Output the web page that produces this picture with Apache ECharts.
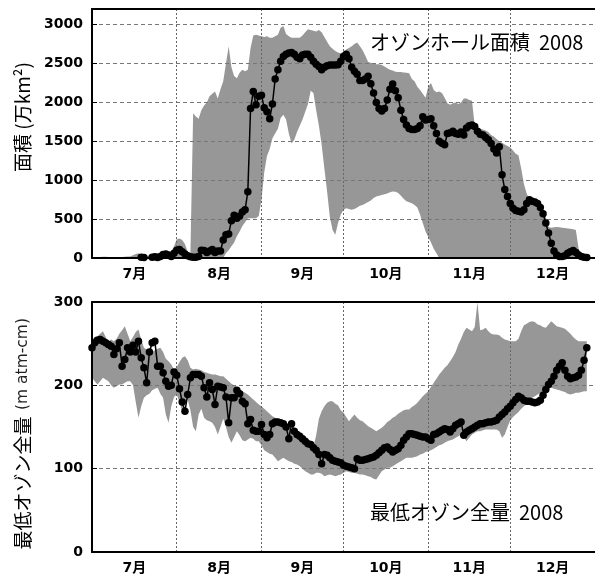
<!DOCTYPE html>
<html><head><meta charset="utf-8">
<script src="https://cdn.jsdelivr.net/npm/echarts@6/dist/echarts.min.js"></script>
<style>html,body{margin:0;padding:0;background:#fff}#c{width:595px;height:581px}</style>
</head><body><div id="c"></div>
<script>
// Month categories (x axis = day counted from 1 July)
const monthLabels = ['7月','8月','9月','10月','11月','12月'];
const monthStartDays = [0,31,62,92,123,153,184];

// Ozone hole area 2008 (万km²), one value per day from 1 July
const areaValues = [
 0,0,0,0,0,0,0,0,0,0,
 0,0,0,0,0,0,0,0,10,5,
 0,0,10,15,5,20,45,50,40,20,
 60,100,110,80,50,30,15,10,10,20,
 100,95,70,90,110,70,90,90,230,300,
 310,480,550,510,540,590,620,850,1920,2140,
 1970,2080,2090,1930,1880,1790,1980,2300,2420,2530,
 2590,2620,2635,2640,2620,2580,2560,2610,2620,2620,
 2580,2530,2490,2460,2420,2450,2470,2480,2480,2480,
 2485,2530,2590,2620,2560,2450,2400,2360,2280,2280,
 2300,2335,2240,2120,2000,1920,1890,1920,2030,2170,
 2235,2150,2060,1900,1780,1710,1665,1650,1650,1665,
 1700,1815,1775,1780,1790,1700,1600,1500,1475,1455,
 1600,1610,1630,1600,1590,1620,1580,1670,1700,1710,
 1690,1630,1590,1580,1550,1520,1470,1400,1350,1430,
 1070,880,790,700,640,610,600,590,620,700,
 750,730,720,700,650,570,450,320,190,90,
 40,20,20,30,60,80,95,70,40,20,
 10,5
];
// Past-years range of the area (min / max), per day
const areaRangeLow = [
 0,0,0,0,0,0,0,0,0,0,
 0,0,0,0,0,0,0,0,0,0,
 0,0,0,0,0,0,0,0,0,0,
 0,0,0,0,0,0,0,0,0,0,
 0,0,0,0,0,0,0,0,0,60,
 100,150,200,280,340,410,460,510,510,510,
 510,540,750,1100,1310,1400,1540,1600,1660,1800,
 1840,1780,1600,1470,1520,1620,1700,1780,1880,1980,
 2150,2120,1900,1700,1460,1150,855,530,360,300,
 450,560,620,640,630,620,630,650,670,680,
 700,720,740,770,790,800,810,820,830,845,
 855,850,835,800,760,730,715,705,680,650,
 560,450,340,270,200,120,60,0,0,0,
 0,0,0,0,0,0,0,0,0,0,
 0,0,0,0,0,0,0,0,0,0,
 0,0,0,0,0,0,0,0,0,0,
 0,0,0,0,0,0,0,0,0,0,
 0,0,0,0,0,0,0,0,0,0,
 0,0
];
const areaRangeHigh = [
 10,10,10,12,15,15,12,10,10,10,
 10,12,15,18,20,35,50,60,30,25,
 20,30,40,50,60,30,40,50,40,80,
 150,240,250,230,180,80,60,1860,1820,1790,
 1900,1960,2000,2080,2110,2140,2050,2170,2270,2500,
 2720,2450,2340,2310,2380,2420,2400,2420,2700,2860,
 2870,2860,2850,2840,2850,2830,2830,2850,2870,2960,
 2980,2880,2850,2830,2830,2830,2830,2860,2900,2940,
 2930,2920,2910,2930,2900,2840,2780,2720,2690,2660,
 2640,2630,2650,2680,2700,2720,2750,2770,2720,2670,
 2600,2520,2510,2500,2490,2490,2480,2460,2440,2420,
 2410,2395,2390,2390,2385,2380,2375,2300,2270,2200,
 2160,2110,2060,2200,2250,2160,2130,2140,2120,2060,
 1990,1970,1990,2000,1980,2000,2050,2050,2030,2020,
 1700,1680,1660,1650,1640,1620,1580,1560,1530,1500,
 1480,1460,1440,1420,1380,1340,1320,1150,950,830,
 750,700,670,620,600,570,530,400,390,395,
 400,395,390,385,380,375,370,360,120,40,
 20,10
];

// Minimum total ozone 2008 (m atm-cm), per day
const ozoneValues = [
 245,251,254,255,253,251,249,247,237,244,
 251,223,231,245,240,248,240,253,233,221,
 203,240,251,253,223,223,215,205,199,200,
 216,212,196,180,169,189,209,213,213,213,
 211,197,186,203,195,177,199,198,197,186,
 155,185,185,194,190,181,178,154,159,146,
 145,145,153,141,137,141,154,156,156,155,
 154,150,136,154,145,141,139,136,133,130,
 129,125,122,117,106,117,116,113,110,109,
 108,107,104,103,102,101,100,112,110,110,
 111,112,113,114,116,119,122,125,126,123,
 120,122,124,128,134,138,142,142,141,140,
 139,138,138,136,134,141,142,144,146,148,
 147,144,148,152,154,156,140,144,146,148,
 150,152,154,154,155,156,156,157,158,162,
 165,168,172,175,179,183,187,185,182,181,
 181,180,179,180,182,188,195,201,205,211,
 218,223,227,218,211,208,209,210,212,218,
 230,245
];
const ozoneRangeLow = [
 209,205,201,205,209,207,205,200,197,199,
 201,201,203,205,205,200,180,161,175,185,
 188,190,194,196,197,190,185,165,155,175,
 186,189,180,169,178,183,170,150,145,165,
 172,161,158,157,155,150,141,150,160,150,
 138,131,138,145,140,134,133,135,137,136,
 133,133,128,122,120,118,117,113,109,111,
 113,111,109,108,106,105,103,100,97,95,
 93,93,95,95,94,91,92,93,92,91,
 92,93,95,97,96,95,95,94,93,93,
 92,91,90,88,87,92,97,99,101,101,
 103,105,107,109,111,113,113,113,114,115,
 117,118,120,121,122,124,126,128,129,131,
 133,134,135,137,139,141,138,133,137,141,
 143,145,145,146,147,147,147,147,147,145,
 137,141,150,158,162,165,168,172,175,178,
 182,185,187,189,191,193,195,196,197,196,
 195,194,193,192,190,189,190,191,191,192,
 193,193
];
const ozoneRangeHigh = [
 255,258,259,262,265,258,253,255,253,256,
 262,266,271,262,253,258,264,267,255,245,
 243,241,240,242,244,245,240,232,229,225,
 219,222,228,233,235,230,221,219,220,219,
 218,216,215,214,213,213,212,211,211,208,
 205,202,200,198,195,193,191,189,186,183,
 180,177,175,172,169,166,163,161,160,158,
 157,155,150,146,143,139,136,132,129,127,
 127,126,140,160,169,175,179,181,181,178,
 176,170,167,162,157,161,165,161,158,157,
 154,151,149,147,145,147,149,152,156,158,
 161,163,166,168,170,171,171,174,176,179,
 183,187,190,193,198,203,208,213,217,221,
 224,229,234,240,249,256,264,269,267,265,
 270,300,266,267,269,265,262,261,261,260,
 257,255,254,253,253,253,256,265,272,274,
 276,277,276,273,272,270,269,273,277,274,
 271,270,269,268,265,262,258,255,253,253,
 253,253
];
const areaTicks = [0,500,1000,1500,2000,2500,3000];
const ozoneTicks = [0,100,200,300];

// ---------- build options ----------
const gridDays = monthStartDays.slice(1, -1);
const labelDays = monthLabels.map((m, i) => (monthStartDays[i] + monthStartDays[i + 1]) / 2);
const pairs = arr => arr.map((v, i) => [i, v]);

const tickFont = {fontFamily: '"DejaVu Sans", "Noto Sans CJK JP", sans-serif', fontWeight: 'bold', fontSize: 14, color: '#000'};

function xAxisBottom(gi) {
  return {
    gridIndex: gi, type: 'value', min: 0, max: 184, z: 3,
    axisLine: {show: true, onZero: false, lineStyle: {color: '#000', width: 2}},
    axisTick: {show: false, customValues: gridDays},
    splitLine: {show: true, lineStyle: {color: '#666', width: 1, type: [2, 2]}},
    axisLabel: Object.assign({
      customValues: labelDays, margin: 9,
      formatter: v => { const i = labelDays.indexOf(v); return i >= 0 ? monthLabels[i] : ''; }
    }, tickFont)
  };
}
function xAxisTop(gi) {
  return {
    gridIndex: gi, type: 'value', position: 'top', min: 0, max: 184, z: 4,
    axisLine: {show: true, onZero: false, lineStyle: {color: '#000', width: 2}},
    axisTick: {show: false}, axisLabel: {show: false}, splitLine: {show: false}
  };
}
function yAxis(gi, max, ticks) {
  return {
    gridIndex: gi, type: 'value', min: 0, max: max, interval: ticks[1] - ticks[0], z: 3,
    axisLine: {show: true, lineStyle: {color: '#000', width: 2}},
    axisTick: {show: true, inside: true, length: 5, lineStyle: {color: '#000', width: 1}},
    splitLine: {show: true, showMinLine: false, showMaxLine: false, lineStyle: {color: '#777', width: 1, type: [4, 3]}},
    axisLabel: Object.assign({
      margin: 9, showMaxLabel: ticks.indexOf(max) >= 0,
      formatter: v => ticks.indexOf(v) >= 0 ? String(v) : ''
    }, tickFont)
  };
}
// Range band: one polygon drawn through the axes' coordinate system
function band(xi, yi, lo, hi) {
  return {
    type: 'custom', xAxisIndex: xi, yAxisIndex: yi, silent: true, z: 1, animation: false,
    data: pairs(hi),
    encode: {x: 0, y: 1},
    renderItem: function (params, api) {
      if (params.dataIndex !== 0) return null;
      const pts = [];
      for (let i = 0; i < hi.length; i++) pts.push(api.coord([i, hi[i]]));
      for (let i = lo.length - 1; i >= 0; i--) pts.push(api.coord([i, lo[i]]));
      return {type: 'polygon', shape: {points: pts}, style: {fill: '#979797', stroke: null}};
    }
  };
}
function dots(xi, yi, vals) {
  return {
    type: 'line', xAxisIndex: xi, yAxisIndex: yi, data: pairs(vals),
    symbol: 'circle', symbolSize: v => (v[1] > 0 ? 7.5 : 0), showAllSymbol: true,
    itemStyle: {color: '#000', borderWidth: 0},
    lineStyle: {color: '#000', width: 1.5}, z: 5, animation: false
  };
}
function vText(x, y, text, size, family, fill) {
  return {type: 'text', x: x, y: y, rotation: Math.PI / 2, z: 10,
          style: {text: text, fontSize: size, fontFamily: family, fill: fill,
                  align: 'center', verticalAlign: 'middle', textAlign: 'center', textVerticalAlign: 'middle'}};
}
function hText(x, y, text) {
  return {type: 'text', x: x, y: y, z: 10,
          style: {text: text, fontSize: 20, fontFamily: 'Noto Sans CJK JP', fill: '#000',
                  align: 'left', verticalAlign: 'middle', textAlign: 'left', textVerticalAlign: 'middle'}};
}

const chart = echarts.init(document.getElementById('c'), null, {renderer: 'canvas'});
chart.setOption({
  animation: false,
  backgroundColor: '#fff',
  grid: [
    {left: 92, top: 9, width: 510, height: 249, show: false},
    {left: 92, top: 302, width: 510, height: 250, show: false}
  ],
  xAxis: [xAxisBottom(0), xAxisTop(0), xAxisBottom(1), xAxisTop(1)],
  yAxis: [yAxis(0, 3200, areaTicks), yAxis(1, 300, ozoneTicks)],
  series: [
    band(0, 0, areaRangeLow, areaRangeHigh),
    dots(0, 0, areaValues),
    band(2, 1, ozoneRangeLow, ozoneRangeHigh),
    dots(2, 1, ozoneValues)
  ],
  graphic: [
    vText(23, 117, '面積 (万km²)', 19, 'Noto Sans CJK JP', '#000'),
    vText(23, 483, '最低オゾン全量', 19, 'Noto Sans CJK JP', '#000'),
    vText(23, 364, '(m atm-cm)', 15.5, 'DejaVu Sans', '#222'),
    hText(370, 42, 'オゾンホール面積  2008'),
    hText(370, 512, '最低オゾン全量  2008')
  ]
});
</script>
</body></html>
